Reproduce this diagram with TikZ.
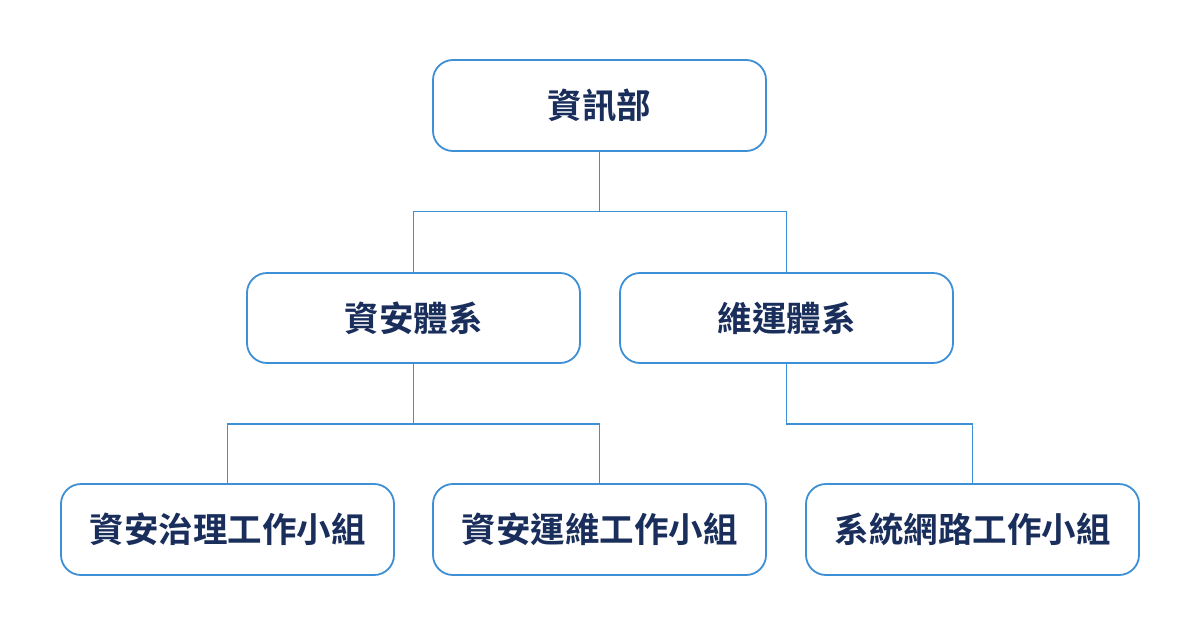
\documentclass[tikz,border=0pt]{standalone}
\usepackage{fontspec}
\newfontfamily\cjk{Noto Sans CJK TC Bold}
\definecolor{boxblue}{HTML}{3D8FD6}
\definecolor{txtnavy}{HTML}{1A2E5C}
\begin{document}
\begin{tikzpicture}[x=1pt,y=-1pt,
  orgbox/.style={draw=boxblue,line width=1.8pt,rounded corners=20pt,fill=white,
    minimum width=333pt,minimum height=91pt,inner sep=0pt,
    font=\cjk\fontsize{34.5}{34.5}\selectfont,text=txtnavy},
  link/.style={draw=boxblue,line width=1.9pt}]
\path[fill=white] (0,0) rectangle (1200,635);
\useasboundingbox (0,0) rectangle (1200,635);
\node[orgbox] (top) at (599.5,105.5) {\raisebox{-1.5pt}{資訊部}};
\node[orgbox,minimum height=90pt] (sec) at (413.5,318) {\raisebox{-1.5pt}{資安體系}};
\node[orgbox,minimum height=90pt] (ops) at (786.5,318) {\raisebox{-1.5pt}{維運體系}};
\node[orgbox] (gov) at (227.5,529.5) {\raisebox{-1.5pt}{資安治理工作小組}};
\node[orgbox] (secops) at (599.5,529.5) {\raisebox{-1.5pt}{資安運維工作小組}};
\node[orgbox] (net) at (972.5,529.5) {\raisebox{-1.5pt}{系統網路工作小組}};
\coordinate (j1) at (599.5,211.5);
\coordinate (j2) at (413.5,424);
\coordinate (j3) at (786.5,424);
\draw[link] (top.south) -- (j1) -| (sec.north);
\draw[link] (j1) -| (ops.north);
\draw[link] (sec.south) -- (j2) -| (gov.north);
\draw[link] (j2) -| (secops.north);
\draw[link] (ops.south) -- (j3) -| (net.north);
\end{tikzpicture}
\end{document}
